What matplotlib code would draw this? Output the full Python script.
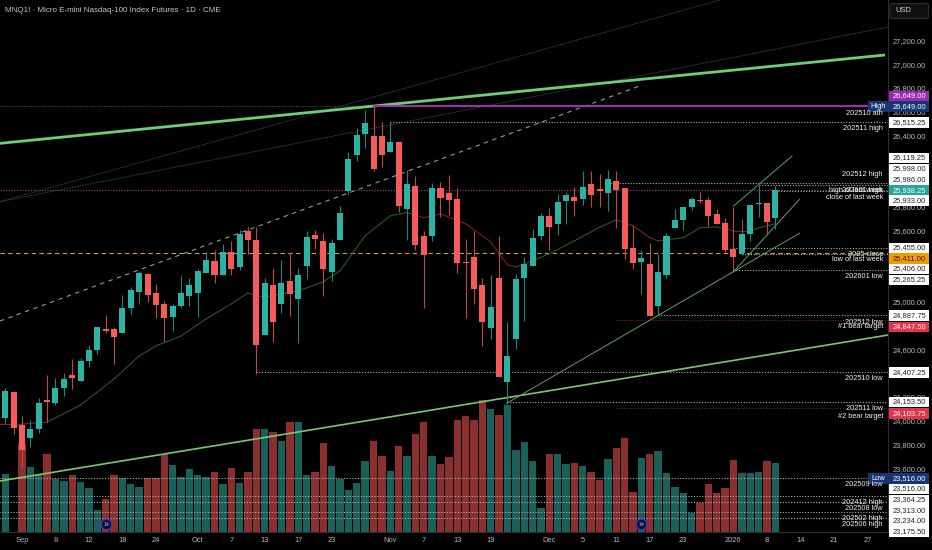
import matplotlib
matplotlib.use("Agg")
import matplotlib.pyplot as plt
from matplotlib.patches import Rectangle, FancyBboxPatch

W, H = 932, 550
plt.rcParams['font.family'] = ['Liberation Sans', 'DejaVu Sans']

# daily bars, first one two sessions before the "Sep" label
first_bar = -2
opens = [24018, 24240, 23962, 23855, 23931, 24173, 24150, 24276, 24381, 24333,
         24502, 24592, 24774, 24769, 24738, 24951, 25083, 25238, 25077, 24985,
         24875, 24963, 25047, 25077, 25241, 25345, 25227, 25423, 25292, 25595,
         25524, 24718, 25142, 24985, 25176, 25027, 25303, 25566, 25513, 25249,
         25522, 25935, 26238, 26413, 26399, 26399, 26258, 26346, 25781, 25971,
         25550, 25550, 25960, 25916, 25868, 25339, 25381, 25142, 24782, 25204,
         24327, 24685, 25204, 25303, 25550, 25722, 25659, 25851, 25884, 25865,
         25988, 25949, 25916, 26013, 25960, 25457, 25339, 25319, 24965, 25224,
         25623, 25685, 25800, 25859, 25859, 25738, 25665, 25448, 25412, 25567,
         25825, 25828, 25707]
highs = [24276, 24249, 24038, 24001, 24192, 24381, 24361, 24398, 24516, 24524,
         24636, 24788, 24889, 24788, 25058, 25125, 25260, 25246, 25153, 25008,
         24985, 25218, 25204, 25277, 25415, 25435, 25485, 25513, 25604, 25631,
         25631, 25204, 25283, 25351, 25415, 25288, 25592, 25604, 25578, 25528,
         25803, 26264, 26464, 26615, 26649, 26511, 26515, 26346, 26109, 26062,
         25592, 25997, 26011, 26070, 25958, 25528, 25598, 25204, 25227, 25550,
         24830, 25233, 25373, 25612, 25744, 25786, 25907, 25921, 25969, 26104,
         26098, 26078, 26110, 26104, 25960, 25640, 25435, 25494, 25401, 25583,
         25781, 25809, 25879, 25927, 25884, 25781, 25705, 25794, 25696, 25814,
         25986, 25828, 25977]
lows = [23968, 23883, 23599, 23779, 23892, 23987, 24130, 24206, 24263, 24333,
        24451, 24558, 24740, 24479, 24738, 24895, 24985, 24999, 24867, 24664,
        24754, 24951, 24965, 24873, 25241, 25162, 25227, 25224, 25266, 25401,
        24394, 24718, 24664, 24904, 24881, 24651, 25195, 25443, 25050, 25176,
        25522, 25910, 26182, 26292, 26098, 26131, 26258, 25758, 25522, 25435,
        24951, 25513, 25718, 25730, 25246, 24867, 24980, 24628, 24685, 24367,
        24139, 24600, 24839, 25303, 25522, 25435, 25564, 25659, 25724, 25817,
        25800, 25800, 25766, 25620, 25359, 25275, 25064, 24881, 24881, 25204,
        25623, 25604, 25772, 25828, 25634, 25659, 25415, 25265, 25395, 25513,
        25716, 25561, 25612]
closes = [24249, 23934, 23749, 23926, 24145, 24158, 24276, 24352, 24356, 24499,
          24592, 24788, 24754, 24701, 24946, 25103, 25243, 25058, 24971, 24867,
          24965, 25075, 25142, 25260, 25351, 25227, 25423, 25275, 25570, 25524,
          24634, 25162, 24830, 25162, 25069, 25227, 25547, 25530, 25275, 25491,
          25749, 26199, 26401, 26502, 26118, 26238, 26346, 25806, 25988, 25477,
          25398, 25954, 25876, 25859, 25330, 25330, 25111, 24830, 24959, 24367,
          24544, 25190, 25322, 25541, 25724, 25626, 25842, 25901, 25851, 25969,
          25899, 25935, 26034, 25943, 25448, 25328, 25370, 24881, 25252, 25558,
          25685, 25800, 25868, 25848, 25722, 25659, 25437, 25373, 25567, 25814,
          25834, 25674, 25938]
volumes = [5800, 0, 8800, 6500, 5700, 7800, 5300, 5100, 5700, 5000,
           4400, 2200, 3300, 5700, 5400, 4800, 4500, 5400, 5400, 7800,
           6700, 5500, 6300, 5700, 5500, 6000, 4800, 6400, 4900, 6000,
           10300, 10300, 10000, 9100, 11000, 11000, 5700, 6000, 8900, 6600,
           5300, 4200, 4900, 7100, 9100, 7600, 6100, 8600, 7600, 9800,
           11000, 7600, 6800, 7500, 11200, 11600, 11200, 13200, 12300, 11700,
           12700, 8200, 9000, 7100, 2400, 7800, 7800, 6800, 6900, 6600,
           6000, 5200, 7300, 8400, 9400, 4000, 7400, 7800, 8100, 5900,
           4500, 3900, 1900, 2900, 4800, 3900, 4400, 7200, 5900, 5900,
           6000, 7100, 6900]

# moving average: bar number, value, and whether the next stretch is rising (green)
ma_idx = [-3, 0, 3, 7, 11, 14, 16, 19, 22, 25, 27, 28, 29, 33, 36, 38, 41, 44, 46, 48,
          50, 53, 56, 58, 59, 61, 63, 66, 69, 71, 73, 75, 76, 79, 81, 83, 85, 87, 88, 90]
ma_val = [23970, 23970, 23987, 24131, 24350, 24544, 24628, 24712, 24856, 24982,
          25075, 25050, 25041, 25092, 25168, 25261, 25556, 25724, 25752, 25707,
          25741, 25657, 25505, 25311, 25294, 25345, 25404, 25513, 25627, 25690,
          25640, 25539, 25513, 25539, 25623, 25631, 25598, 25598, 25623, 25657]
ma_up = [0, 0, 1, 1, 1, 1, 1, 1, 1, 1,
         0, 0, 1, 1, 1, 1, 1, 1, 0, 0,
         0, 0, 0, 0, 1, 1, 1, 1, 1, 0,
         0, 0, 1, 1, 1, 0, 0, 1, 1, 1]

# horizontal levels: price, bar where they start
level_prices = [26515.25, 25998, 25986, 25933, 25455, 25406, 25265.25, 24887.75, 24407.25, 24153.5,
                23516, 23364.25, 23313, 23234, 23175.5, 23062]
level_starts = [44, 70, 88, 90, 85, 86, 85, 76, 28, 58,
                -3, -3, -3, -3, -3, -3]
target_prices = [24847.5, 24103.75]
target_starts = [71, 71]
ath_price = 26649
ath_bar = 42
last_close_price = 25938.25
close_2025_price = 25411

# drawn trend lines as (bar, price) pairs
thick_line_a = ([-2.63, 103.1], [26334, 27078])
thick_line_b = ([-2.63, 103.46], [23491, 24720])
fan_line_c = ([-2.63, 83.4], [25843, 27541])
fan_line_d = ([-2.63, 103.46], [25843, 27314])
dash_line = ([-2.63, 73.8], [24838, 26817])
rise_line_f = ([57.9, 92.9], [24145, 25577])
rise_line_g = ([85, 92.9], [25253, 25863])
rise_line_h = ([85, 92], [25806, 26227])

x_tick_bars = [0, 4, 8, 12, 16, 21, 25, 29, 33, 37, 44, 48, 52, 56, 63, 67, 71, 75, 79, 85, 89, 93, 97, 101]
x_tick_labels = ['Sep', '8', '12', '18', '24', 'Oct', '7', '13', '17', '23', 'Nov', '7', '13', '19',
                 'Dec', '5', '11', '17', '23', '2026', '8', '14', '21', '27']
y_ticks = [27200, 27000, 26800, 26600, 26400, 25800, 25600, 25000, 24600, 24200, 24000, 23800, 23600]
event_bars = [10, 74]

# price tags on the scale, top to bottom
tag_labels = ['26,649.00', '26,649.00', '26,515.25', '26,119.25', '25,998.00', '25,986.00', '25,938.25',
              '25,933.00', '25,455.00', '25,411.00', '25,406.00', '25,265.25', '24,887.75', '24,847.50',
              '24,407.25', '24,153.50', '24,103.75', '23,516.00', '23,516.00', '23,364.25', '23,313.00',
              '23,234.00', '23,175.50']
tag_kinds = ['ath', 'blue', 'w', 'w', 'w', 'w', 'teal', 'w', 'w', 'orange', 'w', 'w', 'w', 'red',
             'w', 'w', 'red', 'blue', 'w', 'w', 'w', 'w', 'w']
tag_y = [96, 106.5, 122.5, 158, 169, 179.5, 190.7, 200.7, 248, 258.7, 269, 280, 315.3, 327,
         372.3, 402, 413.7, 478.7, 489, 500, 510.7, 521, 531.5]

note_labels = ['202510 ath', '202511 high', '202512 high', '202601 high', 'high of last week',
               'close of last week', '2025 close', 'low of last week', '202601 low', '202512 low',
               '#1 bear target', '202510 low', '202511 low', '#2 bear target', '202509 low',
               '202412 high', '202508 low', '202502 high', '202506 high']
note_y = [113.5, 128.3, 175, 190, 190.7, 197.7, 254.3, 260, 277, 322.3, 326.7, 378.7, 409, 416,
          485, 502.3, 509, 518.3, 525]

BG = '#000000'
TEAL = '#2bb3a3'
RED = '#f55b5a'
VOL_TEAL = '#1a5f58'
VOL_RED = '#8a2e2e'
TXT = '#b4b7c0'
xlim = (-22 / 8.37, 866 / 8.37)
ylim = (27541 - 532 * 8.42, 27541)
pos = [0, 18 / H, 888 / W, 532 / H]

fig = plt.figure(figsize=(W / 100, H / 100), dpi=100, facecolor=BG)
vol_ax = fig.add_axes(pos, zorder=-1, facecolor=BG)
ax = fig.add_axes(pos, zorder=0, facecolor='none')

bars = list(range(first_bar, first_bar + len(opens)))
up = [c >= o for o, c in zip(opens, closes)]

vol_ax.bar(bars, volumes, width=0.88, color=[VOL_TEAL if u else VOL_RED for u in up], linewidth=0)
vol_ax.set_xlim(xlim)
vol_ax.set_ylim(0, 53200)
vol_ax.axis('off')

# levels and lines, under the candles
ax.plot([-3, ath_bar], [ath_price, ath_price], color='#555', lw=0.7, ls=(0, (1, 1.5)), zorder=2)
ax.plot([ath_bar, xlim[1]], [ath_price, ath_price], color='#9c2fb0', lw=1.5, zorder=2.2)
ax.plot(xlim, [last_close_price, last_close_price], color='#7b3d74', lw=0.9, ls=(0, (1, 1.2)), zorder=2)
ax.plot(xlim, [close_2025_price, close_2025_price], color='#cf9f45', lw=0.8, ls=(0, (4, 3)), zorder=2)
for price, start in zip(level_prices, level_starts):
    ax.plot([start, xlim[1]], [price, price], color='#b0b0b0', lw=0.8, ls=(0, (1, 1.5)), zorder=2)
for price, start in zip(target_prices, target_starts):
    ax.plot([start, xlim[1]], [price, price], color='#7a2730', lw=0.7, ls=(0, (1, 1.5)), zorder=2)

ax.plot(*thick_line_a, color='#6fce72', lw=2.0, zorder=2.1, solid_capstyle='butt')
ax.plot(*thick_line_b, color='#79c86f', lw=1.2, zorder=2.1)
ax.plot(*fan_line_c, color='#4c6350', lw=0.6, ls=(0, (1, 1)), zorder=2)
ax.plot(*fan_line_d, color='#4c6350', lw=0.6, ls=(0, (1, 1)), zorder=2)
ax.plot(*dash_line, color='#8d9e90', lw=0.8, ls=(0, (4, 4)), zorder=2)
for line in (rise_line_f, rise_line_g, rise_line_h):
    ax.plot(*line, color='#5f9e63', lw=0.7, zorder=2.1)

for i in range(len(ma_idx) - 1):
    ax.plot(ma_idx[i:i + 2], ma_val[i:i + 2], color='#1f5a2b' if ma_up[i] else '#7d1f22', lw=0.8, zorder=2.5)

# candles
for b, o, h, l, c, u in zip(bars, opens, highs, lows, closes, up):
    col = TEAL if u else RED
    ax.plot([b, b], [l, h], color='#22857a' if u else '#b84a49', lw=0.8, zorder=3, solid_capstyle='butt')
    ax.bar(b, abs(c - o), bottom=min(o, c), width=0.72, color=col, linewidth=0, zorder=3.1)

# event markers at the foot of the chart
event_tr = ax.get_xaxis_transform()
ax.scatter(event_bars, [0.0145] * len(event_bars), transform=event_tr, s=62, facecolor='#101030',
           edgecolor='#5a30c8', linewidth=1.0, zorder=4, clip_on=False)
for b in event_bars:
    ax.text(b, 0.0145, '»', transform=event_tr, color='#c8c0f0', fontsize=6.5, ha='center', va='center', zorder=5)

ax.set_xlim(xlim)
ax.set_ylim(ylim)
ax.set_xticks(x_tick_bars)
ax.set_xticklabels(x_tick_labels)
ax.set_yticks(y_ticks)
ax.set_yticklabels([f'{v:,.2f}' for v in y_ticks])
ax.yaxis.tick_right()
ax.tick_params(axis='both', length=0, labelcolor=TXT, labelsize=5.4)
ax.tick_params(axis='y', pad=3.5)
ax.tick_params(axis='x', pad=3.5)
for name, spine in ax.spines.items():
    spine.set_visible(name in ('right', 'bottom'))
    spine.set_color('#2a2e39')
    spine.set_linewidth(0.8)

tag_style = {'w': ('#ffffff', '#222222'), 'ath': ('#9c27b0', '#ffffff'), 'blue': ('#17356f', '#ffffff'),
             'teal': ('#26a69a', '#ffffff'), 'orange': ('#f59b00', '#222222'), 'red': ('#e2354c', '#ffffff')}


def fx(px):
    return px / W


def fy(px):
    return 1 - px / H


for n, (label, kind, y) in enumerate(zip(tag_labels, tag_kinds, tag_y)):
    bg, fg = tag_style[kind]
    fig.add_artist(Rectangle((fx(888.5), fy(y + 5.4)), 40.5 / W, 10.8 / H, transform=fig.transFigure,
                             facecolor=bg, linewidth=0, zorder=1 + n * 0.01))
    fig.text(fx(892.5), fy(y), label, color=fg, fontsize=5.4, va='center', ha='left', zorder=3)

# High / Low flags beside the scale
for word, y in (('High', 106.5), ('Low', 478.7)):
    fig.add_artist(Rectangle((fx(868), fy(y + 5.4)), 20.5 / W, 10.8 / H, transform=fig.transFigure,
                             facecolor='#17356f', linewidth=0, zorder=1.5))
    fig.text(fx(878), fy(y), word, color='#ffffff', fontsize=5.4, va='center', ha='center', zorder=3)

for label, y in zip(note_labels, note_y):
    fig.text(fx(883), fy(y), label, color='#f0f0f0', fontsize=5.3, va='center', ha='right', zorder=2)

fig.text(fx(5), fy(10.5), 'MNQ1! · Micro E-mini Nasdaq-100 Index Futures · 1D · CME', color='#c4c6cc',
         fontsize=5.75, va='center', ha='left')

fig.add_artist(FancyBboxPatch((fx(890), fy(18.5)), 38.5 / W, 15 / H, boxstyle='round,pad=0,rounding_size=0.003',
                              transform=fig.transFigure, facecolor='#101010', edgecolor='#2a2e39', linewidth=0.8))
fig.text(fx(895), fy(11), 'USD', color='#d6d8de', fontsize=5.4, va='center', ha='left')

fig.savefig('out.png', dpi=100, facecolor=BG)
